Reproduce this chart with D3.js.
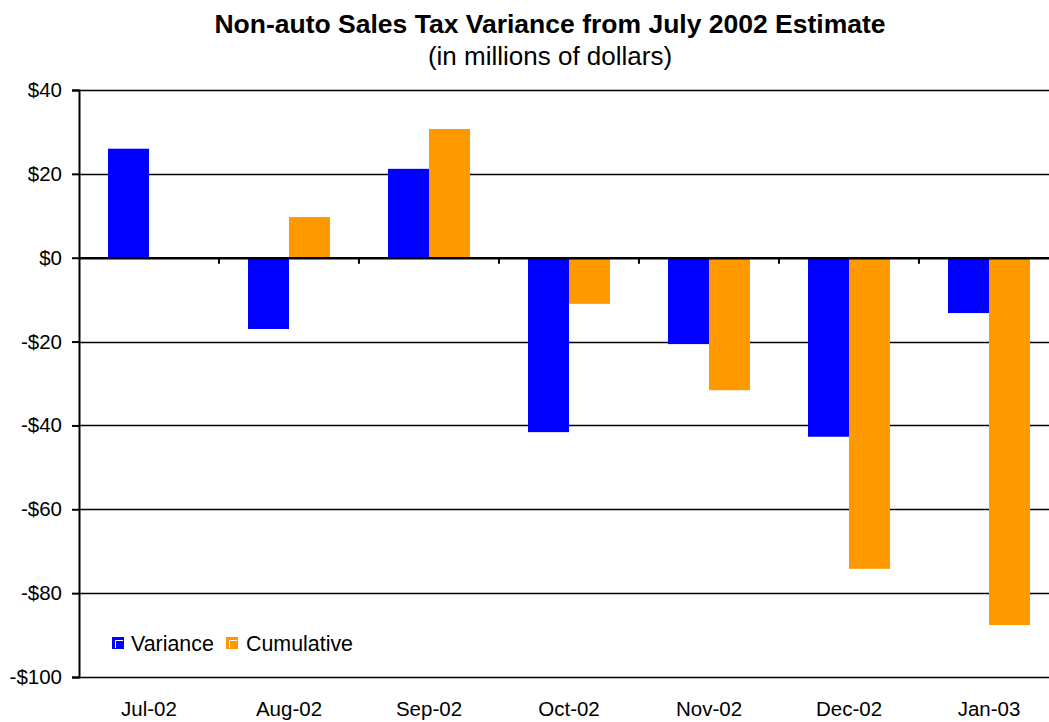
<!DOCTYPE html>
<html>
<head>
<meta charset="utf-8">
<script src="https://cdn.jsdelivr.net/npm/d3@7"></script>
<style>
  html, body { margin: 0; padding: 0; background: #fff; }
  svg { display: block; font-family: "Liberation Sans", Arial, sans-serif; }
</style>
</head>
<body>
<svg id="chart" width="1049" height="722"></svg>
<script>
// Monthly figures, millions of dollars
const months = ["Jul-02", "Aug-02", "Sep-02", "Oct-02", "Nov-02", "Dec-02", "Jan-03"];
const variance = [26, -17, 21.2, -41.6, -20.6, -42.7, -13.2];
const cumulative = [null, 9.7, 30.7, -11.0, -31.6, -74.2, -87.6];
const seriesNames = ["Variance", "Cumulative"];
const seriesColors = ["#0000FF", "#FF9900"];
const yTicks = [40, 20, 0, -20, -40, -60, -80, -100];

const svg = d3.select("#chart");
const plotLeft = 79, plotTop = 90, plotW = 980, plotBottom = 677;

const x = d3.scaleBand().domain(months).range([plotLeft, plotLeft + plotW]).padding(0);
const xs = d3.scaleBand().domain(seriesNames).range([0, x.bandwidth()])
  .paddingInner(0).paddingOuter(0.707);
const y = d3.scaleLinear().domain([-100, 40]).range([plotBottom, plotTop]);
const color = d3.scaleOrdinal().domain(seriesNames).range(seriesColors);

// Title
svg.append("text").attr("x", 550).attr("y", 33).attr("text-anchor", "middle")
  .attr("font-size", 26.5).attr("font-weight", "bold").attr("fill", "#000")
  .text("Non-auto Sales Tax Variance from July 2002 Estimate");
svg.append("text").attr("x", 550).attr("y", 65).attr("text-anchor", "middle")
  .attr("font-size", 26).attr("fill", "#000")
  .text("(in millions of dollars)");

// Horizontal gridlines
svg.append("g").selectAll("line").data(yTicks.filter(d => d !== 0)).join("line")
  .attr("x1", plotLeft).attr("x2", plotLeft + plotW)
  .attr("y1", d => Math.round(y(d)) + 0.5).attr("y2", d => Math.round(y(d)) + 0.5)
  .attr("stroke", "#000").attr("stroke-width", 1.3);

// Bars
const rows = months.map((m, i) => ({ month: m, values: [
  { key: "Variance", v: variance[i] },
  { key: "Cumulative", v: cumulative[i] }
].filter(d => d.v !== null) }));

svg.append("g").selectAll("g").data(rows).join("g")
  .attr("transform", d => `translate(${x(d.month)},0)`)
  .selectAll("rect").data(d => d.values).join("rect")
  .attr("x", d => xs(d.key))
  .attr("width", xs.bandwidth())
  .attr("y", d => y(Math.max(0, d.v)))
  .attr("height", d => Math.abs(y(d.v) - y(0)))
  .attr("fill", d => color(d.key));

// Y axis
const yAxis = svg.append("g").attr("transform", `translate(${plotLeft},0)`)
  .call(d3.axisLeft(y).tickValues(yTicks).tickSize(7).tickPadding(10)
    .tickFormat(d => (d < 0 ? "-$" : "$") + Math.abs(d)));
yAxis.select(".domain").attr("stroke", "#000").attr("stroke-width", 2);
yAxis.selectAll(".tick line").attr("stroke", "#000").attr("stroke-width", 2);
yAxis.selectAll(".tick text").attr("font-size", 20.5).attr("fill", "#000")
  .attr("font-family", "Liberation Sans, Arial, sans-serif");

// Zero line with category ticks
const xAxis = svg.append("g").attr("transform", `translate(0,${y(0)})`)
  .call(d3.axisBottom(x).tickSize(0).tickFormat(""));
xAxis.select(".domain").attr("stroke", "#000").attr("stroke-width", 2.5);
svg.append("g").selectAll("line").data(months.slice(1)).join("line")
  .attr("x1", d => x(d)).attr("x2", d => x(d))
  .attr("y1", y(0)).attr("y2", y(0) + 6)
  .attr("stroke", "#000").attr("stroke-width", 2);

// Category labels along the bottom
svg.append("g").selectAll("text").data(months).join("text")
  .attr("x", d => x(d) + x.bandwidth() / 2)
  .attr("y", 716)
  .attr("text-anchor", "middle").attr("font-size", 20.5).attr("fill", "#000")
  .text(d => d);

// Legend
const legendItems = [
  { key: "Variance", x: 112, tx: 131 },
  { key: "Cumulative", x: 226, tx: 246 }
];
const lg = svg.append("g").selectAll("g").data(legendItems).join("g");
lg.append("rect").attr("x", d => d.x).attr("y", 637).attr("width", 12).attr("height", 12)
  .attr("fill", d => color(d.key));
lg.append("path")
  .attr("d", d => `M${d.x + 3.5},${648} V${640.5} H${d.x + 11}`)
  .attr("fill", "none").attr("stroke", "#fff").attr("stroke-width", 1);
lg.append("text").attr("x", d => d.tx).attr("y", 651)
  .attr("font-size", 21.4).attr("fill", "#000").text(d => d.key);
</script>
</body>
</html>
